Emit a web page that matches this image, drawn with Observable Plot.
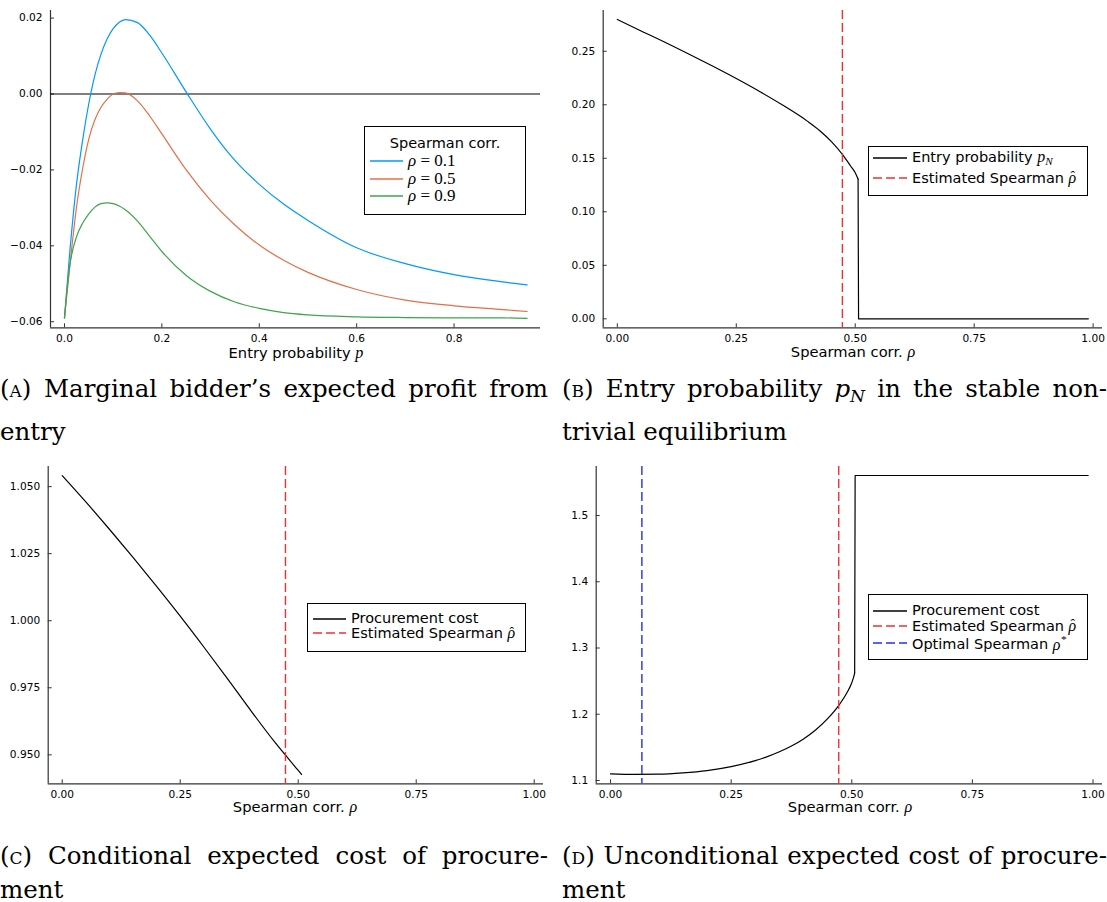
<!DOCTYPE html>
<html><head><meta charset="utf-8">
<script src="https://cdn.jsdelivr.net/npm/d3@7"></script>
<script src="https://cdn.jsdelivr.net/npm/@observablehq/plot@0.6"></script>
<style>
body{margin:0;background:#fff;}
#root{position:relative;width:1107px;height:902px;overflow:hidden;background:#fff;}
.lab{position:absolute;font-family:"DejaVu Sans";font-size:14.7px;color:#000;white-space:nowrap;transform:translate(-50%,-50%);line-height:0.95;}
.m{font-family:"Liberation Serif";font-style:italic;font-size:1.1em;}
.up{font-family:"Liberation Serif";font-size:1.1em;}
.sub{font-size:0.7em;vertical-align:-0.3em;}
.sup{font-size:0.7em;vertical-align:0.6em;}
.hat{position:relative;display:inline-block;}
.hatc{position:absolute;left:0.14em;top:0.02em;font-style:normal;font-size:0.85em;line-height:1;}
.leg{position:absolute;border:1px solid #000;background:#fff;box-sizing:border-box;}
.ent{position:absolute;font-family:"DejaVu Sans";font-size:14.5px;white-space:nowrap;transform:translateY(-50%);line-height:0.95;color:#000;}
.cap{position:absolute;font-family:"DejaVu Serif";font-size:24.5px;line-height:28px;white-space:nowrap;color:#000;}
.j{text-align:justify;text-align-last:justify;}
.sc{font-variant:small-caps;}
</style></head><body><div id="root"></div>
<script>
// ---------- data ----------
// Panel A: marginal bidder's expected profit vs entry probability p
const pA = [0, 0.01, 0.025, 0.0375, 0.05, 0.0625, 0.075, 0.0875, 0.1, 0.1125, 0.125, 0.15, 0.175, 0.2, 0.25, 0.3, 0.35, 0.4, 0.45, 0.5, 0.6, 0.7, 0.8, 0.9, 0.95];
const profitRho01 = [-0.059, -0.043, -0.0235, -0.0120, -0.0025, 0.0050, 0.0105, 0.0145, 0.0172, 0.0189, 0.0196, 0.0188, 0.0155, 0.0108, 0.0005, -0.0093, -0.0175, -0.0238, -0.0290, -0.0333, -0.0405, -0.0447, -0.0476, -0.0495, -0.0503];
const profitRho05 = [-0.059, -0.0465, -0.0295, -0.0195, -0.0118, -0.0068, -0.0035, -0.0014, 0.0000, 0.0004, 0.0003, -0.0018, -0.0058, -0.0105, -0.0200, -0.0280, -0.0345, -0.0398, -0.0438, -0.0470, -0.0515, -0.0543, -0.0558, -0.0568, -0.0573];
const profitRho09 = [-0.059, -0.046, -0.0375, -0.0340, -0.0316, -0.0298, -0.0289, -0.0287, -0.0289, -0.0295, -0.0305, -0.0335, -0.0375, -0.0415, -0.0478, -0.0520, -0.0548, -0.0565, -0.0576, -0.0582, -0.0587, -0.0589, -0.0590, -0.0590, -0.0591];
const seriesA = ["0.1", "0.5", "0.9"];
const colorsA = ["#009AFA", "#E36F47", "#3EA44E"];

// Panel B: entry probability p_N vs Spearman rho
const rhoB = [0, 0.05, 0.1, 0.15, 0.2, 0.25, 0.3, 0.35, 0.4, 0.425, 0.45, 0.475, 0.49, 0.5, 0.506];
const pN = [0.2797, 0.2690, 0.2585, 0.2475, 0.2362, 0.2245, 0.2122, 0.1990, 0.1845, 0.1760, 0.1655, 0.1525, 0.1430, 0.1365, 0.1306];
const rhoBJump = [0.506, 0.507, 0.99];
const pNJump = [0.1306, 0, 0];

// Panel C: conditional expected cost of procurement
const rhoC = [0, 0.05, 0.1, 0.15, 0.2, 0.25, 0.3, 0.35, 0.4, 0.45, 0.5, 0.507];
const costC = [1.0541, 1.0443, 1.0341, 1.0236, 1.0128, 1.0017, 0.9902, 0.9784, 0.9664, 0.9548, 0.9442, 0.9427];

// Panel D: unconditional expected cost of procurement
const rhoD = [0, 0.05, 0.1, 0.15, 0.2, 0.25, 0.3, 0.325, 0.35, 0.375, 0.4, 0.425, 0.45, 0.475, 0.49, 0.5, 0.504, 0.506];
const costD = [1.1100, 1.1092, 1.1095, 1.1115, 1.1150, 1.1210, 1.1300, 1.1360, 1.1433, 1.1520, 1.1628, 1.1763, 1.1933, 1.2153, 1.2325, 1.2475, 1.2563, 1.2623];
const rhoDJump = [0.506, 0.507, 0.99];
const costDJump = [1.2623, 1.5604, 1.5604];

const rhoHat = 0.473;   // estimated Spearman
const rhoStar = 0.065;  // optimal Spearman

// tick values
const ticksAx = [0, 0.2, 0.4, 0.6, 0.8];
const ticksAy = [-0.06, -0.04, -0.02, 0, 0.02];
const ticksRho = [0, 0.25, 0.5, 0.75, 1];
const ticksBy = [0, 0.05, 0.1, 0.15, 0.2, 0.25];
const ticksCy = [0.95, 0.975, 1.0, 1.025, 1.05];
const ticksDy = [1.1, 1.2, 1.3, 1.4, 1.5];

// ---------- helpers ----------
const root = document.getElementById("root");
function el(css, html, cls) {
  const e = document.createElement("div");
  if (cls) e.className = cls;
  e.style.cssText = css;
  e.innerHTML = html;
  root.appendChild(e);
  return e;
}
function place(svg, left, top) {
  svg.style.position = "absolute";
  svg.style.left = left + "px";
  svg.style.top = top + "px";
  root.appendChild(svg);
}
function sample(x1, x2, y, color, dash) {
  const ns = "http://www.w3.org/2000/svg";
  const s = document.createElementNS(ns, "svg");
  s.setAttribute("width", x2 - x1); s.setAttribute("height", 4);
  s.style.cssText = `position:absolute;left:${x1}px;top:${y - 2}px;`;
  const l = document.createElementNS(ns, "line");
  l.setAttribute("x1", 0); l.setAttribute("x2", x2 - x1);
  l.setAttribute("y1", 2); l.setAttribute("y2", 2);
  l.setAttribute("stroke", color); l.setAttribute("stroke-width", 1.3);
  if (dash) l.setAttribute("stroke-dasharray", dash);
  s.appendChild(l); root.appendChild(s);
}
function frame(o) {
  return [
    Plot.ruleX([o.xd[0]], {stroke: "#333", strokeWidth: 1.2}),
    Plot.ruleY([o.yd[0]], {stroke: "#333", strokeWidth: 1.2}),
    Plot.axisX(o.xt, {tickFormat: o.xf, tickSize: -4, tickPadding: 10.5, label: null, stroke: "#333"}),
    Plot.axisY(o.yt, {tickFormat: o.yf, tickSize: -4, tickPadding: 12, label: null, stroke: "#333"})
  ];
}
function panel(o, marks) {
  return Plot.plot({
    width: o.w, height: o.h,
    marginLeft: o.ml, marginRight: o.mr, marginTop: o.mt, marginBottom: o.mb,
    style: {fontFamily: "DejaVu Sans", fontSize: "10.6px", color: "#000", background: "transparent", overflow: "visible"},
    x: {domain: o.xd},
    y: {domain: o.yd},
    marks: [...frame(o), ...marks]
  });
}
const xdRho = [-0.0297, 1.0197];
const RED = "#F03030", BLUE = "#2030F0";
const HAT = '<span class="m hat">ρ<span class="hatc">ˆ</span></span>';

// ---------- Panel A ----------
const dataA = [];
[profitRho01, profitRho05, profitRho09].forEach((arr, k) =>
  arr.forEach((v, i) => dataA.push({p: pA[i], v, s: seriesA[k]})));
const oA = {w: 550, h: 360, ml: 50, mr: 10, mt: 10, mb: 32.7,
  xd: [-0.0287, 0.9775], yd: [-0.0616, 0.0220],
  xt: ticksAx, xf: d3.format(".1f"), yt: ticksAy, yf: d3.format(".2f")};
place(panel(oA, [
  Plot.ruleY([0], {stroke: "#000", strokeWidth: 1.1}),
  Plot.line(dataA, {x: "p", y: "v", z: "s", stroke: d => colorsA[seriesA.indexOf(d.s)], strokeWidth: 1.2, curve: "monotone-x"})
]), 0, 0);

// ---------- Panel B ----------
const oB = {w: 557, h: 360, ml: 52.7, mr: 5, mt: 10, mb: 32.7,
  xd: xdRho, yd: [-0.0084, 0.2881],
  xt: ticksRho, xf: d3.format(".2f"), yt: ticksBy, yf: d3.format(".2f")};
place(panel(oB, [
  Plot.line(rhoB.map((r, i) => ({r, v: pN[i]})), {x: "r", y: "v", stroke: "#000", strokeWidth: 1.2, curve: "monotone-x"}),
  Plot.line(rhoBJump.map((r, i) => ({r, v: pNJump[i]})), {x: "r", y: "v", stroke: "#000", strokeWidth: 1.2}),
  Plot.ruleX([rhoHat], {stroke: RED, strokeWidth: 1.4, strokeDasharray: "9,4"})
]), 550, 0);

// ---------- Panel C ----------
const oC = {w: 550, h: 360, ml: 47.7, mr: 7, mt: 16, mb: 26.7,
  xd: xdRho, yd: [0.9392, 1.0575],
  xt: ticksRho, xf: d3.format(".2f"), yt: ticksCy, yf: d3.format(".3f")};
place(panel(oC, [
  Plot.line(rhoC.map((r, i) => ({r, v: costC[i]})), {x: "r", y: "v", stroke: "#000", strokeWidth: 1.2, curve: "catmull-rom"}),
  Plot.ruleX([rhoHat], {stroke: RED, strokeWidth: 1.4, strokeDasharray: "9,4"})
]), 0, 450);

// ---------- Panel D ----------
const oD = {w: 557, h: 360, ml: 45.7, mr: 5, mt: 16, mb: 26.7,
  xd: xdRho, yd: [1.0950, 1.5740],
  xt: ticksRho, xf: d3.format(".2f"), yt: ticksDy, yf: d3.format(".1f")};
place(panel(oD, [
  Plot.line(rhoD.map((r, i) => ({r, v: costD[i]})), {x: "r", y: "v", stroke: "#000", strokeWidth: 1.2, curve: "monotone-x"}),
  Plot.line(rhoDJump.map((r, i) => ({r, v: costDJump[i]})), {x: "r", y: "v", stroke: "#000", strokeWidth: 1.2}),
  Plot.ruleX([rhoHat], {stroke: RED, strokeWidth: 1.4, strokeDasharray: "9,4"}),
  Plot.ruleX([rhoStar], {stroke: BLUE, strokeWidth: 1.4, strokeDasharray: "9,4"})
]), 550, 450);

// ---------- axis labels ----------
el("left:296px;top:352.5px;", 'Entry probability <span class="m">p</span>', "lab");
el("left:853px;top:352px;", 'Spearman corr. <span class="m">ρ</span>', "lab");
el("left:295px;top:807px;", 'Spearman corr. <span class="m">ρ</span>', "lab");
el("left:850px;top:807px;", 'Spearman corr. <span class="m">ρ</span>', "lab");

// ---------- legends ----------
// A
el("left:364px;top:126px;width:162px;height:89px;", "", "leg");
el("left:445px;top:144px;transform:translate(-50%,-50%);", "Spearman corr.", "ent");
seriesA.forEach((s, k) => {
  const y = [160.7, 178.7, 196.3][k];
  sample(370, 403, y, colorsA[k]);
  el(`left:408px;top:${y}px;`, '<span class="m" style="font-size:17px">ρ</span><span class="up" style="font-size:17px"> = ' + s + '</span>', "ent");
});
// B
el("left:868px;top:146px;width:220px;height:50px;", "", "leg");
sample(873, 907, 158.3, "#000");
el("left:912px;top:158.3px;", 'Entry probability <span class="m">p<span class="sub">N</span></span>', "ent");
sample(873, 907, 177.7, RED, "9,4");
el("left:912px;top:177.7px;", 'Estimated Spearman ' + HAT, "ent");
// C
el("left:307px;top:603px;width:219px;height:49px;", "", "leg");
sample(313, 346, 619.3, "#000");
el("left:351px;top:619.3px;", 'Procurement cost', "ent");
sample(313, 346, 633.3, RED, "9,4");
el("left:351px;top:633.3px;", 'Estimated Spearman ' + HAT, "ent");
// D
el("left:868px;top:594px;width:220px;height:66px;", "", "leg");
sample(873, 907, 611, "#000");
el("left:912px;top:611px;", 'Procurement cost', "ent");
sample(873, 907, 626, RED, "9,4");
el("left:912px;top:626px;", 'Estimated Spearman ' + HAT, "ent");
sample(873, 907, 643.3, BLUE, "9,4");
el("left:912px;top:643.3px;", 'Optimal Spearman <span class="m">ρ<span class="sup">*</span></span>', "ent");

// ---------- captions ----------
el("left:0px;top:374.5px;width:548px;", '<span class="sc">(a)</span> Marginal bidder’s expected profit from', "cap j");
el("left:0px;top:417.5px;", 'entry', "cap");
el("left:562px;top:374.5px;width:545px;", '<span class="sc">(b)</span> Entry probability <i>p<span class="sub">N</span></i> in the stable non-', "cap j");
el("left:562px;top:417.5px;", 'trivial equilibrium', "cap");
el("left:0px;top:841.5px;width:548px;", '<span class="sc">(c)</span> Conditional expected cost of procure-', "cap j");
el("left:0px;top:875.5px;", 'ment', "cap");
el("left:562px;top:841.5px;width:545px;", '<span class="sc">(d)</span> Unconditional expected cost of procure-', "cap j");
el("left:562px;top:875.5px;", 'ment', "cap");
</script></body></html>
